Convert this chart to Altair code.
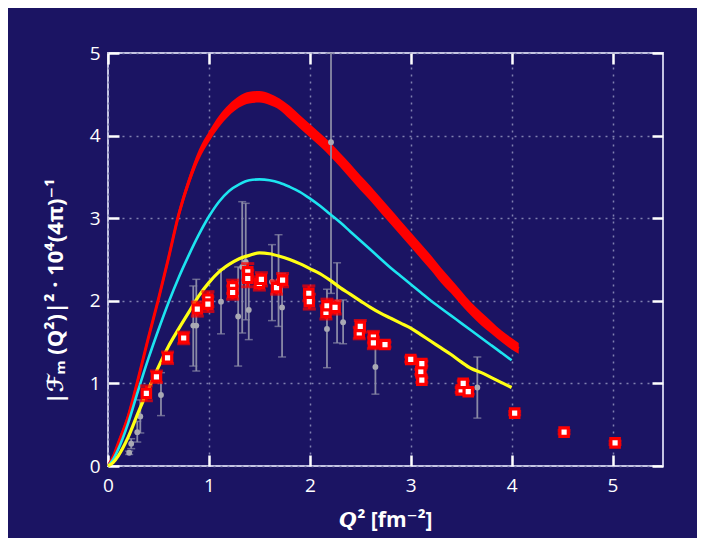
import altair as alt
import pandas as pd

# ---------------- data ----------------
# red theory band
red_x = [0, 0.05, 0.1, 0.2, 0.3, 0.4, 0.5, 0.6, 0.7, 0.8, 0.9, 1.0, 1.1, 1.2, 1.3, 1.4, 1.5,
         1.6, 1.7, 1.8, 1.9, 2.0, 2.1, 2.2, 2.3, 2.4, 2.5, 2.6, 2.7, 2.8, 2.9, 3.0, 3.1, 3.2,
         3.3, 3.4, 3.5, 3.6, 3.7, 3.8, 3.9, 4.0, 4.07]
red_lo = [0.0, 0.08, 0.23, 0.55, 1.01, 1.50, 1.97, 2.46, 2.98, 3.38, 3.70, 3.92, 4.10, 4.24,
          4.34, 4.39, 4.40, 4.37, 4.31, 4.20, 4.09, 3.98, 3.87, 3.75, 3.62, 3.48, 3.34, 3.21,
          3.07, 2.93, 2.79, 2.65, 2.51, 2.37, 2.22, 2.09, 1.95, 1.82, 1.70, 1.60, 1.50, 1.41, 1.36]
red_hi = [0.02, 0.14, 0.31, 0.65, 1.11, 1.60, 2.07, 2.58, 3.10, 3.50, 3.83, 4.05, 4.24, 4.38,
          4.48, 4.53, 4.54, 4.51, 4.45, 4.36, 4.25, 4.14, 4.03, 3.92, 3.79, 3.66, 3.52, 3.39,
          3.25, 3.11, 2.97, 2.83, 2.69, 2.55, 2.40, 2.26, 2.12, 1.98, 1.86, 1.75, 1.64, 1.55, 1.49]
red_mid = [0, 0.11, 0.27, 0.60, 1.06, 1.55, 2.02, 2.52, 3.04, 3.44, 3.76, 3.98, 4.17, 4.31,
           4.41, 4.46, 4.47, 4.44, 4.38, 4.28, 4.17, 4.06, 3.95, 3.83, 3.70, 3.57, 3.43, 3.30,
           3.16, 3.02, 2.88, 2.74, 2.60, 2.46, 2.31, 2.17, 2.03, 1.90, 1.78, 1.67, 1.57, 1.48, 1.42]

# cyan and yellow theory curves
curve_x = [0, 0.05, 0.1, 0.2, 0.3, 0.4, 0.5, 0.6, 0.7, 0.8, 0.9, 1.0, 1.1, 1.2, 1.3, 1.4, 1.5,
           1.6, 1.7, 1.8, 1.9, 2.0, 2.1, 2.2, 2.3, 2.4, 2.5, 2.6, 2.7, 2.8, 2.9, 3.0, 3.1, 3.2,
           3.3, 3.4, 3.5, 3.6, 3.7, 3.8, 3.9, 4.0]
cyan_y = [0, 0.08, 0.20, 0.52, 0.92, 1.30, 1.65, 1.98, 2.28, 2.55, 2.80, 3.02, 3.20, 3.33,
          3.41, 3.46, 3.47, 3.46, 3.43, 3.38, 3.32, 3.24, 3.15, 3.05, 2.95, 2.84, 2.73, 2.62,
          2.51, 2.40, 2.30, 2.20, 2.10, 2.00, 1.91, 1.82, 1.73, 1.64, 1.55, 1.46, 1.37, 1.28]
yellow_y = [0, 0.04, 0.12, 0.35, 0.65, 0.93, 1.20, 1.45, 1.66, 1.86, 2.06, 2.22, 2.35, 2.44,
            2.51, 2.55, 2.58, 2.57, 2.54, 2.50, 2.45, 2.39, 2.33, 2.25, 2.16, 2.08, 2.00, 1.92,
            1.85, 1.79, 1.73, 1.67, 1.59, 1.51, 1.43, 1.35, 1.26, 1.18, 1.13, 1.07, 1.01, 0.95]

# grey data points with error bars
grey_x = [0.21, 0.23, 0.29, 0.32, 0.525, 0.845, 0.875, 1.12, 1.29, 1.33, 1.365, 1.395, 1.625,
          1.69, 1.725, 2.17, 2.21, 2.27, 2.33, 2.65, 3.66]
grey_y = [0.16, 0.27, 0.41, 0.60, 0.86, 1.70, 1.70, 1.99, 1.81, 2.41, 2.47, 1.89, 2.23,
          2.24, 1.92, 1.66, 3.92, 1.98, 1.74, 1.20, 0.95]
grey_lo = [0.14, 0.21, 0.29, 0.40, 0.61, 1.21, 1.15, 1.60, 1.21, 1.61, 1.77, 1.53, 1.76,
           1.69, 1.32, 1.19, 2.09, 1.49, 1.48, 0.87, 0.58]
grey_hi = [0.18, 0.33, 0.54, 0.80, 1.13, 2.18, 2.26, 2.38, 2.41, 3.20, 3.18, 2.25, 2.68,
           2.80, 2.33, 2.14, 5.00, 2.46, 2.01, 1.53, 1.32]

# red data squares with error bars
sq_x = [0.38, 0.48, 0.59, 0.75, 0.885, 0.99, 0.99, 1.235, 1.235, 1.385, 1.385, 1.50, 1.52,
        1.67, 1.73, 1.99, 1.995, 2.16, 2.17, 2.25, 2.49, 2.50, 2.63, 2.63, 2.745, 3.00, 3.10,
        3.11, 3.11, 3.50, 3.52, 3.57, 4.03, 4.52, 5.025]
sq_y = [0.88, 1.08, 1.31, 1.55, 1.90, 2.02, 1.96, 2.17, 2.10, 2.35, 2.27, 2.21, 2.26, 2.16,
        2.25, 2.09, 1.99, 1.86, 1.94, 1.92, 1.61, 1.69, 1.56, 1.49, 1.47, 1.29, 1.14, 1.24,
        1.04, 0.92, 1.00, 0.90, 0.64, 0.41, 0.28]
sq_err = [0.09, 0.07, 0.07, 0.07, 0.085, 0.09, 0.09, 0.08, 0.08, 0.10, 0.10, 0.08, 0.08,
          0.08, 0.08, 0.09, 0.09, 0.08, 0.08, 0.08, 0.07, 0.07, 0.07, 0.07, 0.03, 0.03, 0.03,
          0.03, 0.03, 0.03, 0.03, 0.03, 0.02, 0.02, 0.02]

x_ticks = [0, 1, 2, 3, 4, 5]
y_ticks = [0, 1, 2, 3, 4, 5]

# ---------------- tables ----------------
band_df = pd.DataFrame({"q2": red_x, "lo": red_lo, "hi": red_hi, "v": red_mid})
cyan_df = pd.DataFrame({"q2": curve_x, "v": cyan_y})
yel_df = pd.DataFrame({"q2": curve_x, "v": yellow_y})
grey_df = pd.DataFrame({"q2": grey_x, "v": grey_y, "lo": grey_lo, "hi": grey_hi})
sq_df = pd.DataFrame({"q2": sq_x, "v": sq_y, "err": sq_err})

BG = "#1b1463"
FONT = "Open Sans, DejaVu Sans, sans-serif"
TICK = 11

xs = alt.Scale(domain=[0, 5.5], nice=False, zero=False)
ys = alt.Scale(domain=[0, 5], nice=False, zero=False)

x_axis = alt.Axis(orient="bottom", values=x_ticks, offset=-TICK, tickSize=TICK, tickWidth=2.5,
                  tickColor="white", domain=False, grid=True, gridColor="#8080b0",
                  gridDash=[2, 5], gridWidth=1.5, labelColor="white", labelFontSize=19,
                  labelFont=FONT, labelPadding=10, labelFlush=False,
                  title="𝙌² [fm⁻²]", titleColor="white",
                  titleFontSize=21, titleFont=FONT, titleFontWeight="bold", titlePadding=14)
y_axis = alt.Axis(orient="left", values=y_ticks, offset=-TICK, tickSize=TICK, tickWidth=2.5,
                  tickColor="white", domain=False, grid=True, gridColor="#8080b0",
                  gridDash=[2, 5], gridWidth=1.5, labelColor="white", labelFontSize=19,
                  labelFont=FONT, labelPadding=8, labelFlush=False,
                  title="|ℱₘ (Q²)|² · 10⁴(4π)⁻¹", titleColor="white", titleFontSize=22,
                  titleFont=FONT, titleFontWeight="bold", titlePadding=22, titleY=238)

X = alt.X("q2:Q", scale=xs, axis=x_axis)


def Y(field):
    return alt.Y(field, type="quantitative", scale=ys, axis=y_axis)


band = alt.Chart(band_df).mark_area(color="#ff0000", opacity=1, interpolate="monotone").encode(
    x=X, y=Y("lo"), y2="hi:Q")
band_line = alt.Chart(band_df).mark_line(color="#ff0000", strokeWidth=3, strokeCap="butt",
                                         interpolate="monotone").encode(x=X, y=Y("v"))

grey_bar = alt.Chart(grey_df).mark_rule(color="#8a8aa6", strokeWidth=1.8).encode(
    x=X, y=Y("lo"), y2="hi:Q")
grey_cap_lo = alt.Chart(grey_df).mark_tick(color="#8a8aa6", orient="horizontal", size=8,
                                           thickness=1.5).encode(x=X, y=Y("lo"))
grey_cap_hi = alt.Chart(grey_df).mark_tick(color="#8a8aa6", orient="horizontal", size=8,
                                           thickness=1.5).encode(x=X, y=Y("hi"))
grey_pt = alt.Chart(grey_df).mark_circle(color="#a9a9b4", size=34, opacity=1).encode(
    x=X, y=Y("v"))

cyan = alt.Chart(cyan_df).mark_line(color="#1de4f0", strokeWidth=2.6,
                                    interpolate="monotone").encode(x=X, y=Y("v"))
yellow = alt.Chart(yel_df).mark_line(color="#ffff14", strokeWidth=3.2,
                                     interpolate="monotone").encode(x=X, y=Y("v"))

sq_base = alt.Chart(sq_df).transform_calculate(
    lo="datum.v - datum.err", hi="datum.v + datum.err")
sq_bar = sq_base.mark_rule(color="#ff0000", strokeWidth=2.5).encode(x=X, y=Y("lo"), y2="hi:Q")
sq_cap_lo = sq_base.mark_tick(color="#ff0000", orient="horizontal", size=13, thickness=3).encode(
    x=X, y=Y("lo"))
sq_cap_hi = sq_base.mark_tick(color="#ff0000", orient="horizontal", size=13, thickness=3).encode(
    x=X, y=Y("hi"))
squares = alt.Chart(sq_df).mark_square(size=70, fill="white", stroke="#ff0000", strokeWidth=3.2,
                                       opacity=1, filled=True).encode(x=X, y=Y("v"))

main = alt.layer(band, band_line, grey_bar, grey_cap_lo, grey_cap_hi, grey_pt, cyan, yellow,
                 sq_bar, sq_cap_lo, sq_cap_hi, squares)

# inward ticks on the top and right frame edges
x_top = alt.Axis(orient="top", values=x_ticks, offset=-TICK, tickSize=TICK, tickWidth=2.5,
                 tickColor="white", domain=False, grid=False, labels=False, title=None)
y_right = alt.Axis(orient="right", values=y_ticks, offset=-TICK, tickSize=TICK, tickWidth=2.5,
                   tickColor="white", domain=False, grid=False, labels=False, title=None)
deco = alt.Chart(sq_df).mark_point(opacity=0).encode(
    x=alt.X("q2:Q", scale=xs, axis=x_top),
    y=alt.Y("v:Q", scale=ys, axis=y_right))

chart = alt.layer(main, deco).resolve_scale(x="independent", y="independent").properties(
    width=555, height=413,
    autosize=alt.AutoSizeParams(type="none"),
    padding={"left": 100, "top": 45, "right": 34, "bottom": 72},
    background=BG,
).configure_view(stroke="#c4c4e2", strokeWidth=2)

chart.save("out.html", embed_options={"renderer": "svg", "actions": False})
